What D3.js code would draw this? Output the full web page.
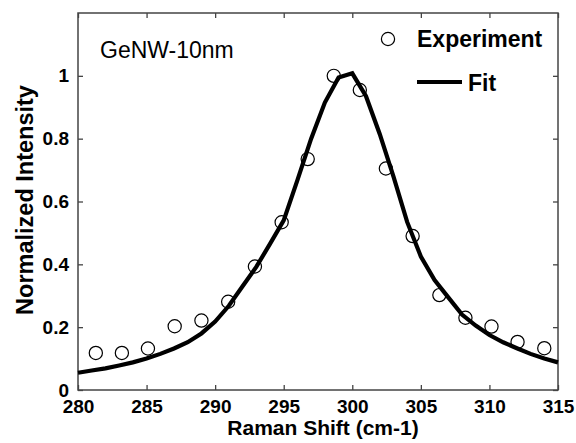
<!DOCTYPE html>
<html>
<head>
<meta charset="utf-8">
<script src="https://cdn.jsdelivr.net/npm/d3@7"></script>
<style>
  html, body { margin: 0; padding: 0; background: #fff; }
  svg { display: block; }
  text { font-family: "Liberation Sans", Arial, sans-serif; fill: #000; }
</style>
</head>
<body>
<svg id="chart" width="576" height="443"></svg>
<script>
// Experimental points
const expX = [281.3, 283.2, 285.1, 287.05, 289.0, 290.95, 292.9, 294.85, 296.75, 298.65, 300.55, 302.45, 304.4, 306.35, 308.25, 310.15, 312.05, 314.0];
const expY = [0.118, 0.118, 0.132, 0.203, 0.221, 0.281, 0.393, 0.534, 0.735, 1.0, 0.955, 0.705, 0.49, 0.302, 0.23, 0.202, 0.153, 0.133];

// Fit curve (sampled at 1 cm-1)
const fitX = [280, 281, 282, 283, 284, 285, 286, 287, 288, 289, 290, 291, 292, 293, 294, 295, 296, 297, 298, 299, 300, 301, 302, 303, 304, 305, 306, 307, 308, 309, 310, 311, 312, 313, 314, 315];
const fitY = [0.055, 0.062, 0.069, 0.078, 0.088, 0.100, 0.115, 0.132, 0.152, 0.180, 0.218, 0.268, 0.330, 0.392, 0.465, 0.540, 0.668, 0.800, 0.915, 0.995, 1.008, 0.935, 0.815, 0.680, 0.535, 0.425, 0.350, 0.295, 0.240, 0.205, 0.175, 0.152, 0.133, 0.115, 0.100, 0.088];

const xTicks = [280, 285, 290, 295, 300, 305, 310, 315];
const yTicks = [0, 0.2, 0.4, 0.6, 0.8, 1];
const yTickLabels = ["0", "0.2", "0.4", "0.6", "0.8", "1"];

const svg = d3.select("#chart");
const m = { left: 78, right: 18, top: 13, bottom: 53 };
const W = 576, H = 443;
const iw = W - m.left - m.right, ih = H - m.top - m.bottom;

const x = d3.scaleLinear().domain([280, 315]).range([m.left, m.left + iw]);
const y = d3.scaleLinear().domain([0, 1.2]).range([m.top + ih, m.top]);

const frameColor = "#444";

// Axes with inward ticks
const gB = svg.append("g").attr("transform", `translate(0,${m.top + ih})`)
  .call(d3.axisBottom(x).tickValues(xTicks).tickSize(-5).tickPadding(10).tickFormat(d3.format("d")));
const gT = svg.append("g").attr("transform", `translate(0,${m.top})`)
  .call(d3.axisTop(x).tickValues(xTicks).tickSize(-5).tickFormat(""));
const gL = svg.append("g").attr("transform", `translate(${m.left},0)`)
  .call(d3.axisLeft(y).tickValues(yTicks).tickSize(-5).tickPadding(9).tickFormat((d, i) => yTickLabels[i]));
const gR = svg.append("g").attr("transform", `translate(${m.left + iw},0)`)
  .call(d3.axisRight(y).tickValues(yTicks).tickSize(-5).tickFormat(""));

[gB, gT, gL, gR].forEach(g => {
  g.select(".domain").remove();
  g.selectAll(".tick line").attr("stroke", frameColor).attr("stroke-width", 1.3);
  g.selectAll(".tick text").attr("font-size", 19).attr("font-weight", "bold")
    .attr("font-family", "Liberation Sans, Arial, sans-serif").attr("fill", "#000");
});

// Frame
svg.append("rect")
  .attr("x", m.left).attr("y", m.top).attr("width", iw).attr("height", ih)
  .attr("fill", "none").attr("stroke", frameColor).attr("stroke-width", 1.5);

// Fit line
const line = d3.line().x((d, i) => x(fitX[i])).y((d, i) => y(fitY[i]));
svg.append("path").datum(fitY)
  .attr("d", line).attr("fill", "none").attr("stroke", "#000")
  .attr("stroke-width", 4.2).attr("stroke-linejoin", "miter");

// Experimental circles
svg.append("g").selectAll("circle").data(expX).join("circle")
  .attr("cx", (d) => x(d)).attr("cy", (d, i) => y(expY[i])).attr("r", 6.6)
  .attr("fill", "none").attr("stroke", "#000").attr("stroke-width", 1.2);

// Sample label
svg.append("text").attr("x", 100).attr("y", 58).attr("font-size", 23)
  .text("GeNW-10nm");

// Legend
svg.append("circle").attr("cx", 388).attr("cy", 39).attr("r", 6.6)
  .attr("fill", "none").attr("stroke", "#000").attr("stroke-width", 1.2);
svg.append("text").attr("x", 417).attr("y", 47).attr("font-size", 23).attr("font-weight", "bold")
  .text("Experiment");
svg.append("line").attr("x1", 417).attr("x2", 462).attr("y1", 82).attr("y2", 82)
  .attr("stroke", "#000").attr("stroke-width", 4.2);
svg.append("text").attr("x", 468).attr("y", 91).attr("font-size", 23).attr("font-weight", "bold")
  .text("Fit");

// Axis titles
svg.append("text").attr("x", 323).attr("y", 435).attr("text-anchor", "middle")
  .attr("font-size", 21).attr("font-weight", "bold").text("Raman Shift (cm-1)");
svg.append("text").attr("transform", "translate(33,200) rotate(-90)").attr("text-anchor", "middle")
  .attr("font-size", 23.5).attr("font-weight", "bold").text("Normalized Intensity");
</script>
</body>
</html>
